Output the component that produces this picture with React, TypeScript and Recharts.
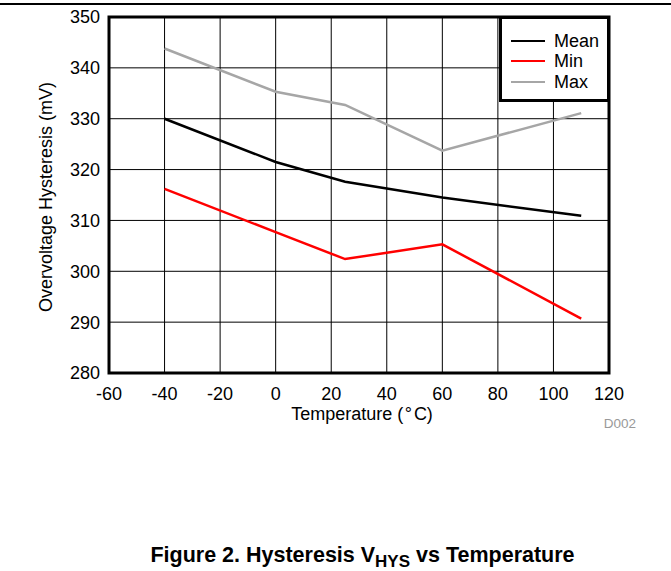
import React from 'react';
import { LineChart, Line, XAxis, YAxis, CartesianGrid, ReferenceArea, Legend } from 'recharts';

const temps = [-40, 0, 25, 60, 110];
const meanVals = [330.0, 321.5, 317.6, 314.5, 310.9];
const minVals = [316.2, 307.7, 302.4, 305.3, 290.7];
const maxVals = [343.8, 335.3, 332.7, 323.7, 331.1];

const xTicks = [-60, -40, -20, 0, 20, 40, 60, 80, 100, 120];
const yTicks = [280, 290, 300, 310, 320, 330, 340, 350];

const series = [
  { key: 'mean', name: 'Mean', color: '#000000' },
  { key: 'min', name: 'Min', color: '#ff0000' },
  { key: 'max', name: 'Max', color: '#a6a6a6' },
];

const data = temps.map((t, i) => ({ temp: t, mean: meanVals[i], min: minVals[i], max: maxVals[i] }));

const FONT = 'Arial, "Liberation Sans", sans-serif';
const FS = 18;

const LegendBox = () => (
  <div
    style={{
      boxSizing: 'border-box',
      width: 111,
      height: 86,
      border: '3px solid #000',
      background: '#fff',
      paddingTop: 11.5,
      paddingLeft: 9,
      fontFamily: FONT,
    }}
  >
    {series.map((s) => (
      <div key={s.key} style={{ display: 'flex', alignItems: 'center', height: 20.5 }}>
        <div style={{ width: 34, height: 0, borderTop: `2.5px solid ${s.color}`, marginRight: 9 }} />
        <span style={{ fontSize: FS, color: '#000', lineHeight: '20px' }}>{s.name}</span>
      </div>
    ))}
  </div>
);

const YLabel = (props: any) => {
  const vb = props.viewBox || {};
  const cx = vb.x - 3;
  const cy = vb.y + vb.height / 2 + 2;
  return (
    <text
      x={cx}
      y={cy}
      transform={`rotate(-90, ${cx}, ${cy})`}
      textAnchor="middle"
      dominantBaseline="central"
      fontSize={FS}
      fill="#000"
      fontFamily={FONT}
    >
      Overvoltage Hysteresis (mV)
    </text>
  );
};

const XLabel = (props: any) => {
  const vb = props.viewBox || {};
  const cx = vb.x + vb.width / 2 + 3;
  const by = vb.y + vb.height + 17;
  return (
    <text x={cx} y={by} textAnchor="middle" fontSize={FS} fill="#000" fontFamily={FONT}>
      Temperature (<tspan dx={1.5}>°</tspan>
      <tspan dx={2}>C)</tspan>
    </text>
  );
};

export default function App() {
  return (
    <div
      style={{
        position: 'absolute',
        left: 0,
        top: 0,
        width: 671,
        height: 571,
        background: '#fff',
        fontFamily: FONT,
      }}
    >
      <div style={{ position: 'absolute', left: 0, top: 3, width: 671, height: 0, borderTop: '2px solid #000' }} />
      <LineChart
        width={671}
        height={571}
        data={data}
        margin={{ top: 17, right: 62, bottom: 168, left: 49 }}
        style={{ fontFamily: FONT }}
      >
        <CartesianGrid stroke="#000" strokeWidth={1} />
        <XAxis
          type="number"
          dataKey="temp"
          domain={[-60, 120]}
          ticks={xTicks}
          interval={0}
          tickLine={false}
          axisLine={false}
          tickSize={6}
          tickMargin={8.5}
          height={30}
          tick={{ fill: '#000', fontSize: FS }}
          label={<XLabel />}
        />
        <YAxis
          type="number"
          domain={[280, 350]}
          ticks={yTicks}
          interval={0}
          width={60}
          tickLine={false}
          axisLine={false}
          tickSize={0}
          tickMargin={9}
          tick={{ fill: '#000', fontSize: FS }}
          label={<YLabel />}
        />
        <ReferenceArea
          x1={-60}
          x2={120}
          y1={280}
          y2={350}
          fill="none"
          fillOpacity={0}
          stroke="#000"
          strokeWidth={3}
          ifOverflow="visible"
        />
        {series.map((s) => (
          <Line
            key={s.key}
            type="linear"
            dataKey={s.key}
            name={s.name}
            stroke={s.color}
            strokeWidth={2.5}
            dot={false}
            activeDot={false}
            isAnimationActive={false}
          />
        ))}
        <Legend
          layout="horizontal"
          verticalAlign="middle"
          align="center"
          content={() => <LegendBox />}
          wrapperStyle={{ left: 499, top: 16, width: 111, height: 86, margin: 0 }}
        />
      </LineChart>
      <div
        style={{
          position: 'absolute',
          right: 35,
          top: 416,
          fontSize: 13.5,
          color: '#999',
        }}
      >
        D002
      </div>
      <div
        style={{
          position: 'absolute',
          left: 27,
          top: 544,
          width: 671,
          textAlign: 'center',
          fontSize: 21.5,
          lineHeight: '22px',
          fontWeight: 'bold',
          color: '#000',
        }}
      >
        Figure 2. Hysteresis V
        <span style={{ fontSize: 17, position: 'relative', top: 5 }}>HYS</span> vs Temperature
      </div>
    </div>
  );
}
